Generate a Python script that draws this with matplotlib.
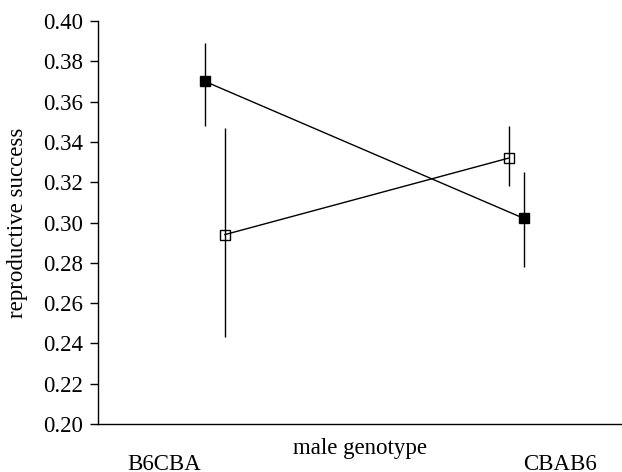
import numpy as np
import matplotlib
matplotlib.use("Agg")
import matplotlib.pyplot as plt

plt.rcParams['font.family'] = ['Liberation Serif', 'DejaVu Serif']

# data
genotypes = ["B6CBA", "CBAB6"]
filled_mean = [0.370, 0.302]
filled_lo = [0.348, 0.278]
filled_hi = [0.389, 0.325]
open_mean = [0.294, 0.332]
open_lo = [0.243, 0.318]
open_hi = [0.347, 0.348]
yticks = [0.20, 0.22, 0.24, 0.26, 0.28, 0.30, 0.32, 0.34, 0.36, 0.38, 0.40]

# small dodge so the two series don't overlap
filled_dx = [-0.033, 0.025]
open_dx = [0.033, -0.025]

fig = plt.figure(figsize=(6.22, 4.72), dpi=100)
ax = fig.add_axes([0.1576, 0.1017, 0.8424, 0.8538])

xpos = np.arange(len(genotypes))

def draw(mean, lo, hi, dx, face):
    x = xpos + np.array(dx)
    m = np.array(mean)
    yerr = [m - np.array(lo), np.array(hi) - m]
    ax.errorbar(x, m, yerr=yerr, fmt='none', ecolor='black', elinewidth=1.0, capsize=0)
    ax.plot(x, m, color='black', lw=1.0, marker='s', markersize=6.7,
            markerfacecolor=face, markeredgecolor='black', markeredgewidth=1.0)

draw(filled_mean, filled_lo, filled_hi, filled_dx, 'black')
draw(open_mean, open_lo, open_hi, open_dx, 'none')

ax.set_ylim(0.20, 0.40)
ax.set_xlim(-0.388, 1.35)
ax.set_yticks(yticks)
ax.set_yticklabels([f"{v:.2f}" for v in yticks])

# category labels sit further out than the points
ax.set_xticks([-0.167, 1.144])
ax.set_xticklabels(genotypes)
ax.tick_params(axis='x', length=0, pad=21.5, labelsize=16.5)
ax.tick_params(axis='y', direction='out', length=5.5, width=1.0, pad=5.5, labelsize=16.5)

ax.text(0.5, -0.035, "male genotype", transform=ax.transAxes,
        ha='center', va='top', fontsize=16.5)
ax.set_ylabel("reproductive success", fontsize=16.5)
ax.yaxis.set_label_coords(-0.134, 0.5)

for s in ['top', 'right']:
    ax.spines[s].set_visible(False)
ax.spines['left'].set_linewidth(1.0)
ax.spines['bottom'].set_linewidth(1.0)

fig.savefig("out.png", dpi=100)
